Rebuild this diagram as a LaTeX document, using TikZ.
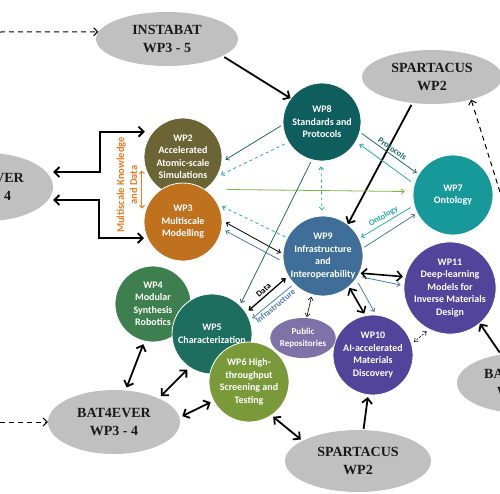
\documentclass[tikz,border=0pt]{standalone}
\usepackage{fontspec}
\setmainfont{Liberation Serif}
\newfontfamily\wpfont{Carlito}
\usetikzlibrary{arrows.meta,shapes.geometric,calc}
\definecolor{cWPii}{HTML}{6B6535}
\definecolor{cWPiii}{HTML}{C0711E}
\definecolor{cWPiv}{HTML}{3E7F4F}
\definecolor{cWPv}{HTML}{1D6E5F}
\definecolor{cWPvi}{HTML}{7A9A3A}
\definecolor{cWPvii}{HTML}{17999A}
\definecolor{cWPviii}{HTML}{0E5E5E}
\definecolor{cWPix}{HTML}{3F6E98}
\definecolor{cWPx}{HTML}{51449A}
\definecolor{cPub}{HTML}{7E72A8}
\definecolor{cGray}{HTML}{C0C0C0}
\definecolor{lDark}{HTML}{1E6B66}
\definecolor{lTeal}{HTML}{2AA7A7}
\definecolor{lGreen}{HTML}{7DB346}
\definecolor{lBlue}{HTML}{4A7AB0}
\definecolor{lOrange}{HTML}{F07A20}
\tikzset{
  wp/.style={circle, draw=white, line width=0.8pt, text=white, align=center, inner sep=0pt,
    font=\wpfont\bfseries\fontsize{10}{12.5}\selectfont},
  proj/.style={ellipse, fill=cGray, inner sep=0pt, align=center, text=black!90,
    font=\bfseries\fontsize{14}{17.5}\selectfont},
  bigarrow/.style={line width=1.8pt, black, {Straight Barb[length=5pt,width=10pt]}-{Straight Barb[length=5pt,width=10pt]}},
  bigone/.style={line width=1.8pt, black, -{Straight Barb[length=5pt,width=10pt]}},
  thin/.style={line width=0.8pt, -{Straight Barb[length=3pt,width=5pt]}},
  thinboth/.style={line width=0.8pt, {Straight Barb[length=3pt,width=5pt]}-{Straight Barb[length=3pt,width=5pt]}},
  dashlong/.style={line width=1pt, dashed, dash pattern=on 5pt off 4pt, -{Straight Barb[length=4pt,width=8pt]}},
  lbl/.style={font=\wpfont\bfseries\fontsize{8.5}{10}\selectfont, inner sep=2pt}
}
\begin{document}
\begin{tikzpicture}[x=1pt,y=-1pt]
\useasboundingbox (0,0) rectangle (500,493);

% project ellipses
\node[proj, minimum width=142pt, minimum height=54pt] (instabat) at (167,39) {INSTABAT\\WP3 - 5};
\node[proj, minimum width=140pt, minimum height=54pt] (spartop) at (432,77) {SPARTACUS\\WP2};
\node[proj, minimum width=132pt, minimum height=68pt] (batleft) at (-13,187) {BAT4EVER\\WP3 - 4};
\node[proj, minimum width=132pt, minimum height=64pt] (batbot) at (114,422) {BAT4EVER\\WP3 - 4};
\node[proj, minimum width=128pt, minimum height=60pt] (batright) at (521,383) {BAT4EVER\\WP3 - 4};
\node[proj, minimum width=146pt, minimum height=62pt] (sparbot) at (358,461) {SPARTACUS\\WP2};

% WP circles
\node[wp, fill=cWPii, minimum size=78pt] (wp2) at (183,157) {WP2\\Accelerated\\Atomic-scale\\Simulations};
\node[wp, fill=cWPiii, minimum size=78pt] (wp3) at (183,222) {WP3\\Multiscale\\Modelling};
\node[wp, fill=cWPiv, minimum size=76pt] (wp4) at (153,304) {WP4\\Modular\\Synthesis\\Robotics};
\node[wp, fill=cWPv, minimum size=80pt] (wp5) at (212,334) {WP5\\Characterization};
\node[wp, fill=cWPvi, minimum size=80pt] (wp6) at (249,382) {WP6 High-\\throughput\\Screening and\\Testing};
\node[wp, fill=cWPviii, minimum size=78pt] (wp8) at (322,122) {WP8\\Standards and\\Protocols};
\node[wp, fill=cWPvii, minimum size=80pt] (wp7) at (453,195) {WP7\\Ontology};
\node[wp, fill=cWPix, minimum size=80pt] (wp9) at (323,256) {WP9\\Infrastructure\\and\\Interoperability};
\node[wp, fill=cWPx, minimum size=80pt] (wp10) at (373,355) {WP10\\AI-accelerated\\Materials\\Discovery};
\node[wp, fill=cWPx, minimum size=82pt] (wp11) at (450,288) {WP11\\Deep-learning\\Models for\\Inverse Materials\\Design};
\node[ellipse, fill=cPub, text=white, inner sep=0pt, minimum width=58pt, minimum height=40pt, align=center,
  font=\wpfont\bfseries\fontsize{9}{11.5}\selectfont] (pub) at (303,338) {Public\\Repositories};

% orange label
\node[rotate=90, text=lOrange, align=center, font=\wpfont\bfseries\fontsize{10.5}{13}\selectfont] (mlabel) at (127,185) {Multiscale Knowledge\\and Data};
\draw[lOrange, line width=1pt, {Straight Barb[length=2.5pt,width=5pt]}-{Straight Barb[length=2.5pt,width=5pt]}]
  ([xshift=-4pt]wp2.200) -- ([xshift=-4pt]wp3.160);

% dashed externals
\coordinate (leftA) at (0,32);
\coordinate (leftB) at (0,422);
\coordinate (rightA) at (500,192);
\draw[dashlong] (leftA) -- (instabat.174);
\draw[dashlong] (leftB) -- (batbot.west);
\draw[dashlong] (rightA) -- (spartop.330);

% thick external arrows
\draw[bigone, shorten <=2pt] (instabat.343) -- (wp8.143);
\draw[bigone, shorten <=2pt] (spartop.233) -- (wp9.52);
\draw[bigone, shorten <=2pt] (batright.125) -- (wp11.310);
\draw[bigone, shorten <=1pt, shorten >=2pt] (sparbot.80) -- (wp10.263);
\draw[bigarrow, shorten <=2pt, shorten >=2pt] (sparbot.160) -- (wp6.304);
\draw[bigarrow, shorten <=3pt, shorten >=3pt] (batbot.70) -- (wp4.257);
\draw[bigarrow, shorten <=3pt, shorten >=3pt] (batbot.28) -- (wp5.236);
\draw[bigarrow, shorten <=3pt, shorten >=3pt] (batbot.4) -- (wp6.208);
\draw[bigarrow, line join=miter] ([yshift=15pt]batleft.east) -- ++(47,0) |- ([xshift=-8pt]wp2.140);
\draw[bigarrow, line join=miter] ([yshift=-13pt]batleft.east) -- ++(46,0) |- ([xshift=-3pt]wp3.204);

% WP8 links
\draw[thin, lDark, shorten <=2pt, shorten >=4pt] (wp8.184) -- (wp2.353);
\draw[thin, lTeal, dashed, shorten <=4pt, shorten >=4pt] (wp8.211) -- (wp2.330);
\draw[thin, lGreen] ($(wp2)!0.5!(wp3)+(44,0)$) -- ([xshift=-8pt]wp7.175);
\draw[thin, lTeal, dashed, shorten <=2pt, shorten >=4pt] (wp9.153) -- (wp3.26);
\draw[thinboth, black, shorten <=4pt, shorten >=2pt] (wp3.2) -- (wp9.177);
\draw[thin, lBlue, shorten <=4pt, shorten >=4pt] (wp9.188) -- (wp3.350);
\draw[thin, lDark, shorten <=2pt, shorten >=2pt] (wp8.255) -- (wp5.46);
\draw[thinboth, lTeal, dashed, shorten <=5pt, shorten >=5pt] ([xshift=-1pt]wp8.270) -- ([xshift=-1pt]wp9.90);
\draw[thin, lDark, shorten <=2pt, shorten >=2pt] (wp8.345) -- node[lbl, sloped, above, text=lDark] {Protocols} (wp7.149);
\draw[thin, lTeal, shorten <=4pt, shorten >=4pt] (wp7.164) -- (wp8.330);
\draw[thin, lTeal, shorten <=4pt, shorten >=2pt] (wp7.195) -- node[lbl, sloped, above, text=lTeal] {Ontology} (wp9.26);
\draw[thin, lBlue, shorten <=2pt, shorten >=2pt] (wp9.11) -- (wp7.207);

% WP9 links
\draw[bigarrow, line width=1.6pt, shorten <=1pt, shorten >=2pt] (wp9.335) -- (wp11.166);
\draw[thin, lBlue, shorten <=4pt, shorten >=3pt] (wp9.330) -- (wp11.177);
\draw[bigarrow, line width=1.6pt, shorten <=1pt, shorten >=2pt] (wp9.310) -- (wp10.101);
\draw[thin, lBlue, shorten <=4pt, shorten >=3pt] (wp9.325) -- (wp10.86);
\draw[thinboth, black, line width=0.6pt, shorten <=2pt, shorten >=1pt] (wp9.254) -- (pub.80);
\draw[thinboth, black, line width=0.6pt, dashed, dash pattern=on 2pt off 1.5pt, shorten <=3pt, shorten >=3pt] (wp11.243) -- (wp10.16);
\draw[thinboth, black, line width=1.3pt, shorten <=3pt, shorten >=3pt] (wp9.210) -- node[lbl, sloped, above, text=black] {Data} (wp5.32);
\draw[thin, lBlue, shorten <=3pt, shorten >=3pt] (wp9.224) -- node[lbl, sloped, below, text=lBlue] {Infrastructure} (wp5.20);
\end{tikzpicture}
\end{document}
